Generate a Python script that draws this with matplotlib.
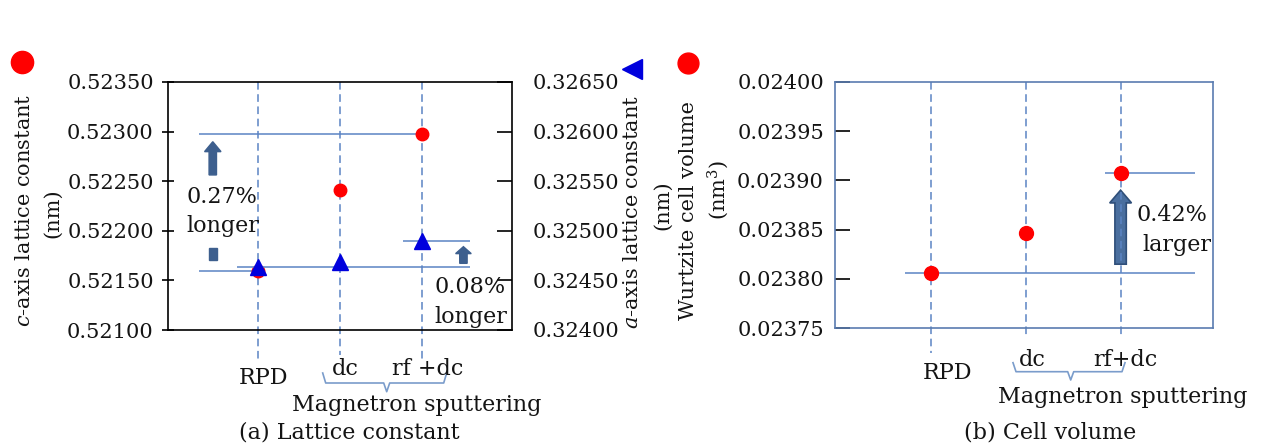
import matplotlib
matplotlib.use("Agg")
import matplotlib.pyplot as plt
from matplotlib.patches import FancyArrow, Rectangle
from matplotlib.ticker import FormatStrFormatter, MultipleLocator
from matplotlib.transforms import blended_transform_factory

plt.rcParams['font.family'] = ['DejaVu Serif']
plt.rcParams['mathtext.fontset'] = 'dejavuserif'

# data
methods = ["RPD", "dc", "rf+dc"]
method_labels = ["RPD", "dc", "rf +dc"]
c_axis = [0.52159, 0.52241, 0.52298]      # nm
a_axis = [0.324638, 0.324685, 0.324899]  # nm
cell_volume = [0.023806, 0.023847, 0.023907]  # nm^3
group_label = "Magnetron sputtering"

W, H = 1262, 446
fig = plt.figure(figsize=(W / 100, H / 100), dpi=100)

TXT = "#141414"
LINE = "#5b84c4"
DASH = "#5b84c4"
ARROW = "#3d5f8e"
FS = 15
FS2 = 16


def fx(x):
    return x / W


def fy(y):
    return 1 - y / H


def ftext(x, y, s, **kw):
    kw.setdefault("fontsize", FS2)
    kw.setdefault("color", TXT)
    kw.setdefault("ha", "center")
    kw.setdefault("va", "center")
    fig.text(fx(x), fy(y), s, **kw)


def brace(x1, xm, x2, ytop, ymid, ybot):
    xs = [x1, x1 + 3, xm - 3, xm, xm + 3, x2 - 3, x2]
    ys = [ytop, ymid, ymid, ybot, ymid, ymid, ytop]
    fig.add_artist(plt.Line2D([fx(v) for v in xs], [fy(v) for v in ys],
                              color="#7a9ccb", lw=1.2))


xpos = [1, 2, 3]

# ---------------- (a) lattice constant ----------------
ax = fig.add_axes([fx(167.7), fy(330), fx(512 - 167.7), (330 - 82) / H])
ax2 = ax.twinx()
ax.set_xlim(-0.0945, 4.087)
ax.set_ylim(0.521, 0.5235)
ax2.set_ylim(0.324, 0.3265)
for a_ in (ax, ax2):
    a_.yaxis.set_major_locator(MultipleLocator(0.0005))
    a_.yaxis.set_major_formatter(FormatStrFormatter('%.5f'))
    a_.set_xticks([])
for s in ax.spines.values():
    s.set_color("black")
    s.set_linewidth(1.2)
for s in ax2.spines.values():
    s.set_visible(False)
ax.tick_params(axis='y', direction='inout', length=8, width=1.2, pad=6,
               labelsize=FS, labelcolor=TXT, right=False)
ax2.tick_params(axis='y', direction='in', length=11, width=1.2, pad=15,
                labelsize=FS, labelcolor=TXT, left=False)

bt = blended_transform_factory(ax.transData, ax.transAxes)
for x, yb in zip(xpos, [-0.12, -0.10, -0.12]):
    ax.plot([x, x], [1, yb], transform=bt, clip_on=False, color=DASH,
            lw=1.1, ls=(0, (5, 3)))

ax.hlines(c_axis[2], 0.281, 3.0, color=LINE, lw=1.1)
ax.hlines(c_axis[0], 0.281, 1.0, color=LINE, lw=1.1)
ax2.hlines(a_axis[0], 0.742, 3.578, color=LINE, lw=1.1)
ax2.hlines(a_axis[2], 2.762, 3.578, color=LINE, lw=1.1)

ax.plot(xpos, c_axis, 'o', color="#ff0000", ms=9, zorder=5)
ax2.plot(xpos, a_axis, '^', color="#0000dd", ms=12, zorder=6)

# 0.27 % arrow (broken) and 0.08 % arrow
ax.add_patch(FancyArrow(0.453, 0.522563, 0, 0.522898 - 0.522563, width=0.09,
                        head_width=0.2, head_length=0.0001,
                        length_includes_head=True, fc=ARROW, ec=ARROW))
ax.add_patch(Rectangle((0.41, 0.521706), 0.09, 0.00012, fc=ARROW, ec=ARROW))
ax.add_patch(FancyArrow(3.497, 0.521672, 0, 0.52184 - 0.521672, width=0.09,
                        head_width=0.19, head_length=0.00007,
                        length_includes_head=True, fc=ARROW, ec=ARROW))

ftext(186, 197, "0.27%", ha="left")
ftext(186, 226, "longer", ha="left")
ftext(434, 287, "0.08%", ha="left")
ftext(434, 317, "longer", ha="left")

ftext(263, 378, method_labels[0])
ftext(345, 369, method_labels[1])
ftext(428, 369, method_labels[2])
brace(322.7, 386.7, 446.7, 373, 383, 391.7)
ftext(417, 405, group_label)
ftext(349, 432, "(a) Lattice constant")

ftext(25, 210, r"$c$-axis lattice constant", rotation=90, fontsize=FS)
ftext(53, 213, "(nm)", rotation=90, fontsize=FS)
ftext(632, 212, r"$a$-axis lattice constant", rotation=90, fontsize=FS)
ftext(663, 205, "(nm)", rotation=90, fontsize=FS)

fig.add_artist(plt.Line2D([fx(22)], [fy(62)], marker='o', ms=16,
                          color="#ff0000", ls=''))
fig.add_artist(plt.Line2D([fx(632)], [fy(69)], marker='<', ms=14,
                          color="#0000dd", ls=''))

# ---------------- (b) cell volume ----------------
bx = fig.add_axes([fx(835), fy(328.3), fx(1213.3 - 835), (328.3 - 81.7) / H])
bx.set_xlim(-0.013, 3.978)
bx.set_ylim(0.02375, 0.024)
bx.yaxis.set_major_locator(MultipleLocator(0.00005))
bx.yaxis.set_major_formatter(FormatStrFormatter('%.5f'))
bx.set_xticks([])
for s in bx.spines.values():
    s.set_color("#5a7cb0")
    s.set_linewidth(1.2)
bx.tick_params(axis='y', direction='in', length=11, width=1.2, pad=8,
               labelsize=FS, labelcolor=TXT)

bt2 = blended_transform_factory(bx.transData, bx.transAxes)
for x, yb in zip(xpos, [-0.10, -0.035, -0.035]):
    bx.plot([x, x], [1, yb], transform=bt2, clip_on=False, color=DASH,
            lw=1.1, ls=(0, (5, 3)))

bx.hlines(cell_volume[2], 2.835, 3.79, color=LINE, lw=1.1)
bx.hlines(cell_volume[0], 0.726, 3.785, color=LINE, lw=1.1)
bx.plot(xpos, cell_volume, 'o', color="#ff0000", ms=10, zorder=5)

bx.add_patch(FancyArrow(3.0, 0.023815, 0, 0.02389 - 0.023815, width=0.12,
                        head_width=0.23, head_length=0.0000129,
                        length_includes_head=True, fc="#4a6f9f",
                        ec="#2f4f7a", lw=1.2))

ftext(1137, 215, "0.42%", ha="left")
ftext(1142, 245, "larger", ha="left")

ftext(947, 373, methods[0])
ftext(1032, 360, methods[1])
ftext(1125, 360, methods[2])
brace(1013, 1070.7, 1125, 362.7, 371.7, 380)
ftext(1123, 397, group_label)
ftext(1050, 432, "(b) Cell volume")

ftext(688, 210, "Wurtzite cell volume", rotation=90, fontsize=FS)
ftext(718, 190, "(nm$^3$)", rotation=90, fontsize=FS)
fig.add_artist(plt.Line2D([fx(688)], [fy(63)], marker='o', ms=15,
                          color="#ff0000", ls=''))

fig.savefig("out.png", dpi=100)
